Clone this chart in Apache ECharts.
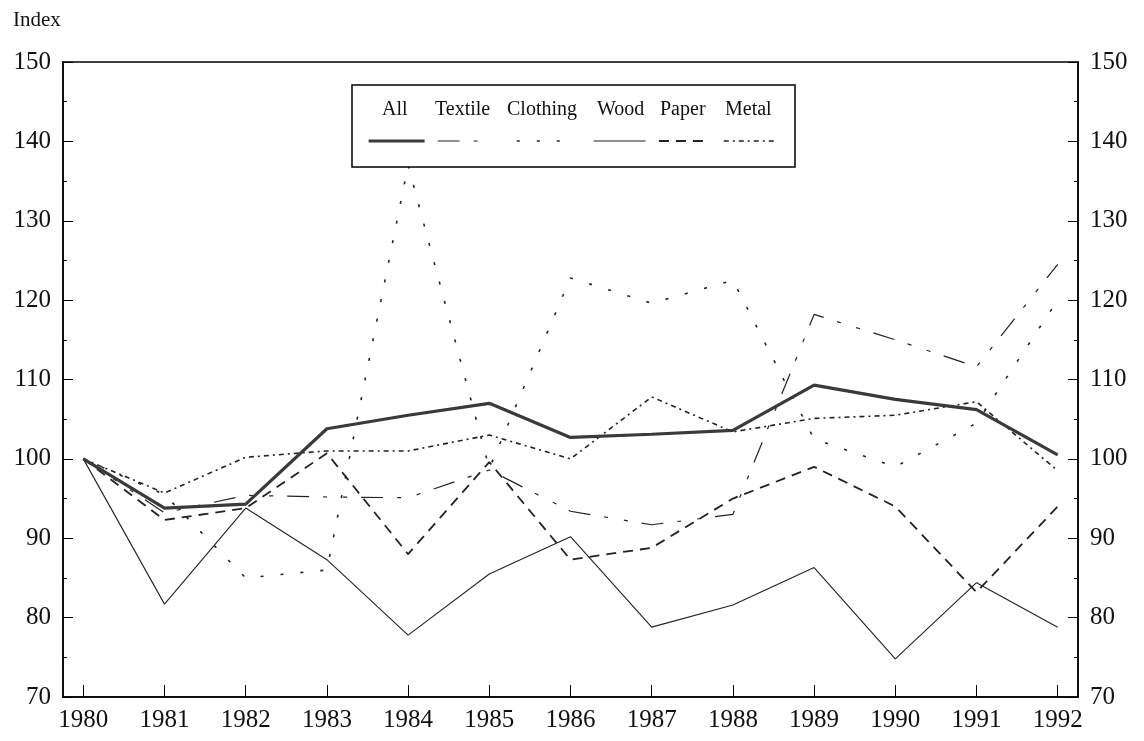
<!DOCTYPE html>
<html>
<head>
<meta charset="utf-8">
<script src="https://cdn.jsdelivr.net/npm/echarts@6/dist/echarts.min.js"></script>
<style>
  html, body { margin: 0; padding: 0; background: #fff; }
  #chart { width: 1144px; height: 741px; }
</style>
</head>
<body>
<div id="chart"></div>
<script>
// years on the x axis
var years = [1980, 1981, 1982, 1983, 1984, 1985, 1986, 1987, 1988, 1989, 1990, 1991, 1992];

// index values
var allData      = [100, 93.8, 94.3, 103.8, 105.5, 107.0, 102.7, 103.1, 103.6, 109.3, 107.5, 106.2, 100.5];
var textileData  = [100, 93.2, 95.4, 95.2, 95.1, 98.6, 93.4, 91.7, 93.0, 118.2, 115.0, 111.6, 124.5];
var clothingData = [100, 95.5, 85.0, 86.0, 137.0, 98.8, 122.8, 119.6, 122.5, 102.5, 99.0, 104.5, 120.0];
var woodData     = [100, 81.7, 93.8, 87.3, 77.8, 85.5, 90.2, 78.8, 81.6, 86.3, 74.8, 84.4, 78.8];
var paperData    = [100, 92.3, 93.8, 100.7, 88.0, 99.6, 87.3, 88.8, 95.0, 99.0, 94.0, 83.2, 94.0];
var metalData    = [100, 95.7, 100.2, 101.0, 101.0, 103.0, 100.0, 107.8, 103.4, 105.1, 105.5, 107.2, 98.5];

var names = ['All', 'Textile', 'Clothing', 'Wood', 'Paper', 'Metal'];
var values = [allData, textileData, clothingData, woodData, paperData, metalData];

// line looks for each series
var styles = [
  { width: 3.2, color: '#3a3a3a', type: 'solid' },
  { width: 1.2, color: '#222', type: [22, 14, 4, 16, 4, 14] },
  { width: 1.6, color: '#222', type: [3, 17] },
  { width: 1.1, color: '#222', type: 'solid' },
  { width: 1.8, color: '#222', type: [10, 7] },
  { width: 1.6, color: '#222', type: [5, 4, 2, 4] }
];

// legend placement (text above, line sample below)
var textLeft = [382, 435, 507, 597, 660, 725];
var iconLeft = [367, 437, 516, 593, 658, 723];
var iconWidth = [56, 45, 46, 52, 45, 50];

var serif = 'Liberation Serif';

var series = names.map(function (n, i) {
  return {
    name: n,
    type: 'line',
    symbol: 'none',
    showSymbol: false,
    lineStyle: styles[i],
    itemStyle: { color: styles[i].color },
    z: i === 0 ? 3 : 2,
    data: years.map(function (y, j) { return [y, values[i][j]]; })
  };
});

var legends = [];
names.forEach(function (n, i) {
  legends.push({
    data: [n],
    icon: 'none',
    left: textLeft[i] - 5,
    top: 100,
    padding: 0,
    itemWidth: 0,
    itemHeight: 0,
    z: 10,
    textStyle: { fontFamily: serif, fontSize: 20, color: '#111' }
  });
  legends.push({
    data: [n],
    left: iconLeft[i],
    top: 136,
    padding: 0,
    itemWidth: iconWidth[i],
    itemHeight: 10,
    itemStyle: { opacity: 0, borderWidth: 0 },
    lineStyle: styles[i],
    z: 10,
    formatter: function () { return ''; }
  });
});

var yAxisBase = {
  type: 'value',
  min: 70,
  max: 150,
  interval: 10,
  axisLine: { show: true, lineStyle: { color: '#000', width: 1.5 } },
  axisTick: { show: true, inside: true, length: 10, lineStyle: { color: '#000' } },
  minorTick: { show: true, splitNumber: 2, length: 4, lineStyle: { color: '#000' } },
  splitLine: { show: false },
  axisLabel: { fontFamily: serif, fontSize: 25, color: '#111', margin: 12 }
};

var option = {
  animation: false,
  backgroundColor: '#fff',
  textStyle: { fontFamily: serif },
  title: {
    text: 'Index',
    left: 8,
    top: 5,
    textStyle: { fontFamily: serif, fontSize: 21, fontWeight: 'normal', color: '#111' }
  },
  legend: legends,
  grid: {
    left: 63, right: 66, top: 62, bottom: 44,
    show: true, borderColor: '#000', borderWidth: 1.5, backgroundColor: 'transparent'
  },
  graphic: [{
    type: 'rect',
    z: 8,
    shape: { x: 352, y: 85, width: 443, height: 82 },
    style: { fill: '#fff', stroke: '#000', lineWidth: 1.5 }
  }],
  xAxis: {
    type: 'value',
    min: 1979.75,
    max: 1992.25,
    axisLine: { show: true, lineStyle: { color: '#000', width: 1.5 } },
    axisTick: { show: true, inside: true, length: 12, customValues: years, lineStyle: { color: '#000' } },
    splitLine: { show: false },
    axisLabel: {
      customValues: years,
      formatter: function (v) { return String(v); },
      fontFamily: serif, fontSize: 25, color: '#111', margin: 11
    }
  },
  yAxis: [
    Object.assign({}, yAxisBase, { position: 'left' }),
    Object.assign({}, yAxisBase, { position: 'right' })
  ],
  series: series
};

var chart = echarts.init(document.getElementById('chart'), null, { renderer: 'canvas' });
chart.setOption(option);
</script>
</body>
</html>
